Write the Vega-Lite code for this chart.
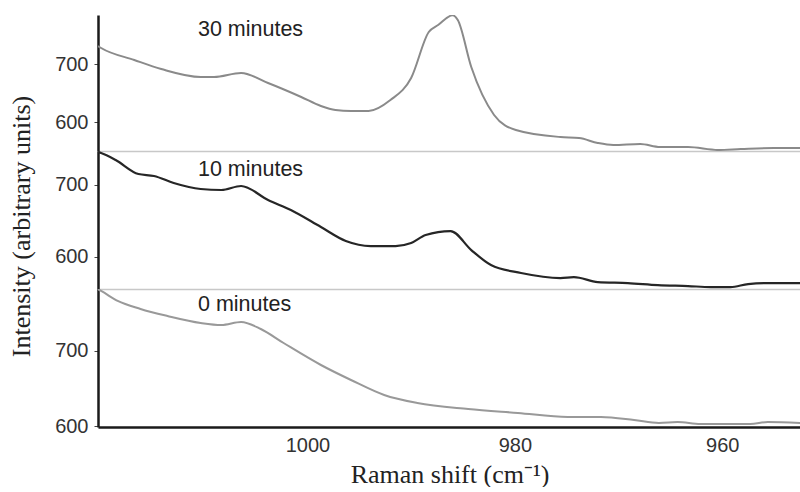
{
  "$schema": "https://vega.github.io/schema/vega-lite/v6.json",
  "background": "white",
  "padding": {"left": 8, "top": 15, "right": 0, "bottom": 0},
  "spacing": 0,
  "bounds": "flush",
  "config": {"view": {"stroke": null}, "font": "Liberation Sans", "concat": {"spacing": 0}},
  "datasets": {
    "spectra": [
      {"t": "30 minutes", "shift": 1020.2, "intensity": 731},
      {"t": "30 minutes", "shift": 1019.9, "intensity": 727.6},
      {"t": "30 minutes", "shift": 1016.7, "intensity": 706.9},
      {"t": "30 minutes", "shift": 1014.1, "intensity": 691.4},
      {"t": "30 minutes", "shift": 1010.3, "intensity": 677.6},
      {"t": "30 minutes", "shift": 1009.0, "intensity": 677.6},
      {"t": "30 minutes", "shift": 1006.4, "intensity": 684.5},
      {"t": "30 minutes", "shift": 1003.8, "intensity": 667.2},
      {"t": "30 minutes", "shift": 1000.6, "intensity": 643.1},
      {"t": "30 minutes", "shift": 998.7, "intensity": 627.6},
      {"t": "30 minutes", "shift": 997.3, "intensity": 620.7},
      {"t": "30 minutes", "shift": 995.8, "intensity": 619},
      {"t": "30 minutes", "shift": 994.1, "intensity": 619},
      {"t": "30 minutes", "shift": 992.0, "intensity": 637.9},
      {"t": "30 minutes", "shift": 990.0, "intensity": 675.9},
      {"t": "30 minutes", "shift": 988.3, "intensity": 755.2},
      {"t": "30 minutes", "shift": 987.4, "intensity": 767.2},
      {"t": "30 minutes", "shift": 986.0, "intensity": 784},
      {"t": "30 minutes", "shift": 985.5, "intensity": 775.9},
      {"t": "30 minutes", "shift": 984.2, "intensity": 694.8},
      {"t": "30 minutes", "shift": 982.0, "intensity": 612.1},
      {"t": "30 minutes", "shift": 979.9, "intensity": 586.2},
      {"t": "30 minutes", "shift": 975.6, "intensity": 574.1},
      {"t": "30 minutes", "shift": 973.8, "intensity": 572.4},
      {"t": "30 minutes", "shift": 972.0, "intensity": 563.8},
      {"t": "30 minutes", "shift": 970.5, "intensity": 560.3},
      {"t": "30 minutes", "shift": 967.9, "intensity": 562.1},
      {"t": "30 minutes", "shift": 966.0, "intensity": 556.9},
      {"t": "30 minutes", "shift": 963.3, "intensity": 556.9},
      {"t": "30 minutes", "shift": 960.4, "intensity": 551.7},
      {"t": "30 minutes", "shift": 958.2, "intensity": 553.4},
      {"t": "30 minutes", "shift": 955.0, "intensity": 555.2},
      {"t": "30 minutes", "shift": 952.4, "intensity": 555.2},

      {"t": "10 minutes", "shift": 1020.2, "intensity": 746},
      {"t": "10 minutes", "shift": 1019.9, "intensity": 744.6},
      {"t": "10 minutes", "shift": 1018.5, "intensity": 734.9},
      {"t": "10 minutes", "shift": 1016.3, "intensity": 715.3},
      {"t": "10 minutes", "shift": 1014.8, "intensity": 712.6},
      {"t": "10 minutes", "shift": 1012.9, "intensity": 702.8},
      {"t": "10 minutes", "shift": 1010.3, "intensity": 694.4},
      {"t": "10 minutes", "shift": 1008.3, "intensity": 693},
      {"t": "10 minutes", "shift": 1006.4, "intensity": 698.6},
      {"t": "10 minutes", "shift": 1003.8, "intensity": 679.1},
      {"t": "10 minutes", "shift": 1001.6, "intensity": 665.1},
      {"t": "10 minutes", "shift": 998.7, "intensity": 641.4},
      {"t": "10 minutes", "shift": 996.3, "intensity": 621.9},
      {"t": "10 minutes", "shift": 993.9, "intensity": 614.9},
      {"t": "10 minutes", "shift": 991.5, "intensity": 614.9},
      {"t": "10 minutes", "shift": 990.0, "intensity": 619.1},
      {"t": "10 minutes", "shift": 988.6, "intensity": 630.3},
      {"t": "10 minutes", "shift": 986.2, "intensity": 635.8},
      {"t": "10 minutes", "shift": 984.2, "intensity": 609.3},
      {"t": "10 minutes", "shift": 982.3, "intensity": 588.4},
      {"t": "10 minutes", "shift": 979.4, "intensity": 577.3},
      {"t": "10 minutes", "shift": 975.6, "intensity": 570.3},
      {"t": "10 minutes", "shift": 974.3, "intensity": 571.5},
      {"t": "10 minutes", "shift": 972.0, "intensity": 564.7},
      {"t": "10 minutes", "shift": 969.1, "intensity": 563.3},
      {"t": "10 minutes", "shift": 966.2, "intensity": 560.5},
      {"t": "10 minutes", "shift": 963.3, "intensity": 559.1},
      {"t": "10 minutes", "shift": 961.1, "intensity": 557.7},
      {"t": "10 minutes", "shift": 959.2, "intensity": 557.7},
      {"t": "10 minutes", "shift": 957.5, "intensity": 561.9},
      {"t": "10 minutes", "shift": 955.6, "intensity": 563.3},
      {"t": "10 minutes", "shift": 952.4, "intensity": 563.3},

      {"t": "0 minutes", "shift": 1020.2, "intensity": 781.5},
      {"t": "0 minutes", "shift": 1019.9, "intensity": 779.3},
      {"t": "0 minutes", "shift": 1018.3, "intensity": 766},
      {"t": "0 minutes", "shift": 1016.1, "intensity": 755.4},
      {"t": "0 minutes", "shift": 1013.5, "intensity": 746.1},
      {"t": "0 minutes", "shift": 1010.3, "intensity": 736.8},
      {"t": "0 minutes", "shift": 1008.3, "intensity": 734.1},
      {"t": "0 minutes", "shift": 1006.4, "intensity": 738.1},
      {"t": "0 minutes", "shift": 1004.5, "intensity": 728.8},
      {"t": "0 minutes", "shift": 1002.3, "intensity": 710.2},
      {"t": "0 minutes", "shift": 998.7, "intensity": 681},
      {"t": "0 minutes", "shift": 995.8, "intensity": 661.1},
      {"t": "0 minutes", "shift": 992.6, "intensity": 641.2},
      {"t": "0 minutes", "shift": 989.4, "intensity": 630.5},
      {"t": "0 minutes", "shift": 984.5, "intensity": 622.6},
      {"t": "0 minutes", "shift": 979.7, "intensity": 617.3},
      {"t": "0 minutes", "shift": 974.9, "intensity": 612},
      {"t": "0 minutes", "shift": 971.7, "intensity": 612},
      {"t": "0 minutes", "shift": 968.5, "intensity": 608},
      {"t": "0 minutes", "shift": 966.1, "intensity": 604},
      {"t": "0 minutes", "shift": 964.3, "intensity": 605.3},
      {"t": "0 minutes", "shift": 962.1, "intensity": 602.7},
      {"t": "0 minutes", "shift": 958.9, "intensity": 602.7},
      {"t": "0 minutes", "shift": 957.3, "intensity": 602.7},
      {"t": "0 minutes", "shift": 955.6, "intensity": 605.3},
      {"t": "0 minutes", "shift": 952.4, "intensity": 604}
    ],
    "labels": [
      {"t": "30 minutes", "shift": 1010.56, "intensity": 757.8},
      {"t": "10 minutes", "shift": 1010.56, "intensity": 721.6},
      {"t": "0 minutes", "shift": 1010.56, "intensity": 760}
    ]
  },
  "vconcat": [
    {
      "width": 703,
      "height": 136,
      "encoding": {
        "x": {"field": "shift", "type": "quantitative", "scale": {"domain": [952.4, 1020.2], "reverse": true, "nice": false, "zero": false},
          "axis": {"labels": false, "ticks": false, "title": null, "grid": false, "domainColor": "#c8c8c8", "domainWidth": 1.5}},
        "y": {"field": "intensity", "type": "quantitative", "scale": {"domain": [550, 784.5], "nice": false, "zero": false},
          "axis": {"values": [600, 700], "grid": false, "title": null, "tickSize": 4, "tickColor": "#444", "labelFontSize": 20, "labelColor": "#333", "labelPadding": 6, "domainColor": "#1a1a1a", "domainWidth": 2.5}}
      },
      "layer": [
        {"data": {"name": "spectra"}, "transform": [{"filter": "datum.t === '30 minutes'"}],
          "mark": {"type": "line", "color": "#8a8a8a", "strokeWidth": 2, "clip": true, "interpolate": "monotone"}},
        {"data": {"name": "labels"}, "transform": [{"filter": "datum.t === '30 minutes'"}],
          "mark": {"type": "text", "align": "left", "baseline": "middle", "fontSize": 21.5, "color": "#222"},
          "encoding": {"text": {"field": "t"}}}
      ]
    },
    {
      "width": 703,
      "height": 138,
      "encoding": {
        "x": {"field": "shift", "type": "quantitative", "scale": {"domain": [952.4, 1020.2], "reverse": true, "nice": false, "zero": false},
          "axis": {"labels": false, "ticks": false, "title": null, "grid": false, "domainColor": "#c8c8c8", "domainWidth": 1.5}},
        "y": {"field": "intensity", "type": "quantitative", "scale": {"domain": [555, 747.4], "nice": false, "zero": false},
          "axis": {"values": [600, 700], "grid": false, "title": "Intensity (arbitrary units)", "titleFont": "Liberation Serif", "titleFontSize": 26, "titleFontWeight": "normal", "titleColor": "#222", "titlePadding": 20, "titleY": 75, "tickSize": 4, "tickColor": "#444", "labelFontSize": 20, "labelColor": "#333", "labelPadding": 6, "domainColor": "#1a1a1a", "domainWidth": 2.5}}
      },
      "layer": [
        {"data": {"name": "spectra"}, "transform": [{"filter": "datum.t === '10 minutes'"}],
          "mark": {"type": "line", "color": "#262626", "strokeWidth": 2.2, "clip": true, "interpolate": "monotone"}},
        {"data": {"name": "labels"}, "transform": [{"filter": "datum.t === '10 minutes'"}],
          "mark": {"type": "text", "align": "left", "baseline": "middle", "fontSize": 21.5, "color": "#222"},
          "encoding": {"text": {"field": "t"}}}
      ]
    },
    {
      "width": 703,
      "height": 138,
      "encoding": {
        "x": {"field": "shift", "type": "quantitative", "scale": {"domain": [952.4, 1020.2], "reverse": true, "nice": false, "zero": false},
          "axis": {"values": [1000, 980, 960], "format": "d", "ticks": false, "grid": false, "labelFontSize": 20, "labelColor": "#333", "labelPadding": 8, "domainColor": "#1a1a1a", "domainWidth": 2.5,
            "title": "Raman shift (cm⁻¹)", "titleFont": "Liberation Serif", "titleFontSize": 26, "titleFontWeight": "normal", "titleColor": "#222", "titlePadding": 6}},
        "y": {"field": "intensity", "type": "quantitative", "scale": {"domain": [598.7, 781.9], "nice": false, "zero": false},
          "axis": {"values": [600, 700], "grid": false, "title": null, "tickSize": 4, "tickColor": "#444", "labelFontSize": 20, "labelColor": "#333", "labelPadding": 6, "domainColor": "#1a1a1a", "domainWidth": 2.5}}
      },
      "layer": [
        {"data": {"name": "spectra"}, "transform": [{"filter": "datum.t === '0 minutes'"}],
          "mark": {"type": "line", "color": "#999999", "strokeWidth": 2, "clip": true, "interpolate": "monotone"}},
        {"data": {"name": "labels"}, "transform": [{"filter": "datum.t === '0 minutes'"}],
          "mark": {"type": "text", "align": "left", "baseline": "middle", "fontSize": 21.5, "color": "#222"},
          "encoding": {"text": {"field": "t"}}}
      ]
    }
  ]
}
